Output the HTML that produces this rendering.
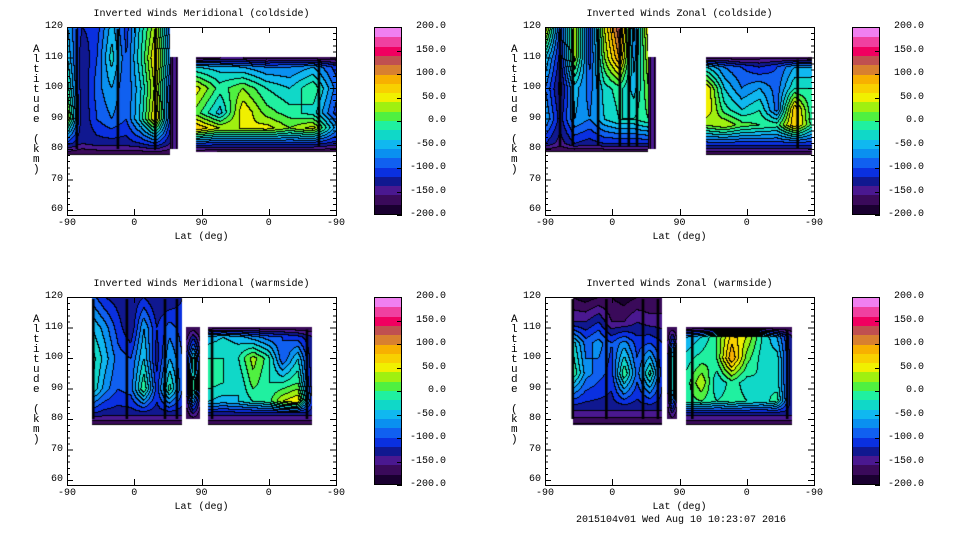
<!DOCTYPE html>
<html><head><meta charset="utf-8">
<style>
body{margin:0;background:#fff;width:960px;height:540px;overflow:hidden;position:relative;font-family:"Liberation Mono",monospace;font-size:10px;color:#000}
.p{position:absolute;left:0;top:0;width:480px;height:270px}
.t{position:absolute;white-space:pre;line-height:10px}
canvas{position:absolute}
</style></head><body>
<div id="root"></div>
<div class="t" style="left:576px;top:516px">2015104v01 Wed Aug 10 10:23:07 2016</div>
<script>
// ---- data (u: 0..360 across x-axis, -90 .. 90 .. -90) ----
const tlA_alts=[120,110,100,90,82,78];
const tlA_vals=[[-60,-120,-110,-50,-110,-30,40,-100],[-40,-140,-100,-30,-100,-20,70,-80],[-10,-140,-90,-60,-100,-40,50,-110],[40,-140,-100,-80,-100,-30,70,-110],[-110,-140,-130,-130,-130,-120,-100,-140],[-185,-185,-185,-185,-185,-185,-185,-185]];
const tlS_alts=[110,80];const tlS_vals=[[-170,-150,-170],[-170,-150,-170]];
const tlB_alts=[110,107,100,92,87,82,79];
const tlB_vals=[[-170,-160,-160,-170,-160,-170,-175],[-40,-50,-60,-80,-80,-60,-110],[50,-10,20,-20,-40,0,-90],[10,-50,60,10,-10,-30,-110],[80,40,40,50,20,50,-70],[-100,-110,-110,-110,-110,-110,-130],[-180,-185,-185,-185,-185,-185,-185]];
const tlStripes=[13,68,118,337];

const trA_alts=[120,110,100,90,82,79];
const trA_vals=[[60,-110,40,-110,40,140,-90,60],[-40,-130,30,-110,20,100,-70,40],[-80,-150,-50,-90,-30,-10,-50,20],[-60,-130,-60,-80,-40,-20,-20,0],[-120,-150,-120,-130,-120,-120,-120,-120],[-185,-185,-185,-185,-185,-185,-185,-185]];
const trS_alts=[110,80];const trS_vals=[[-170,-150,-170],[-170,-150,-170]];
const trB_alts=[110,107,100,93,88,82,78];
const trB_vals=[[-170,-165,-175,-165,-165,-165,-175],[-40,-80,-100,-120,-100,-60,-60],[60,-40,-80,-60,-90,-20,-20],[60,-10,-40,-20,-90,80,-20],[20,40,10,0,-10,80,-10],[-110,-110,-110,-110,-110,-110,-110],[-185,-185,-185,-185,-185,-185,-185]];
const trStripes=[20,37,71,100,112,123,338];

const blA_alts=[120,110,100,90,82,78];
const blA_vals=[[-90,-120,-130,-140,-120,-140,-140,-120],[-40,-70,-110,-140,-60,-120,-90,-110],[-10,-50,-90,-100,-40,-130,-60,-100],[-20,-70,-100,-90,0,-110,-10,-100],[-120,-130,-130,-130,-130,-130,-130,-130],[-185,-185,-185,-185,-185,-185,-185,-185]];
const blS_alts=[110,100,90,80];const blS_vals=[[-180,-170,-180],[-140,-30,-140],[-140,0,-140],[-180,-170,-180]];
const blB_alts=[110,107,100,92,86,82,78];
const blB_vals=[[-175,-170,-170,-170,-170,-170,-175,-175],[-50,-40,-50,-70,-90,-100,-110,-140],[-20,-20,-20,30,-10,-100,-40,-140],[-10,-20,-40,10,-20,-20,0,-140],[-40,-50,-40,-20,-10,40,60,-120],[-130,-130,-130,-130,-130,-130,-130,-130],[-185,-185,-185,-185,-185,-185,-185,-185]];
const blStripes=[35,80,131,147,194,321];

const brA_alts=[120,112,105,95,84,78];
const brA_vals=[[-180,-190,-180,-180,-190,-180,-180,-180],[-140,-140,-120,-160,-160,-140,-150,-150],[-30,-90,-70,-100,-70,-110,-100,-120],[0,-70,-90,-110,0,-90,-10,-120],[-130,-130,-130,-130,-130,-130,-130,-130],[-185,-185,-185,-185,-185,-185,-185,-185]];
const brS_alts=[110,100,90,80];const brS_vals=[[-180,-170,-180],[-150,-20,-150],[-150,-20,-150],[-180,-170,-180]];
const brB_alts=[110,107,100,92,86,82,78];
const brB_vals=[[-175,-170,-170,-170,-170,-170,-175,-175],[-60,-40,0,70,40,-20,-60,-140],[-30,-10,0,100,10,-30,-30,-140],[-10,40,-40,-10,-30,-20,-30,-140],[-10,0,-20,-10,-20,-30,-10,-140],[-130,-130,-130,-130,-130,-130,-130,-130],[-185,-185,-185,-185,-185,-185,-185,-185]];
const brStripes=[37,82,131,151,197,324];

const bandColors=["#1a0030","#3a0a5a","#4a1890","#101890","#0a30e0","#1060f0","#0a90f0","#10b8f0","#10d8c8","#20f0a0","#50f040","#a0f010","#f0f000","#f8d000","#f8b000","#d88030","#c05050","#f00060","#f040a0","#f080f0"];
const cbLabels=["200.0","150.0","100.0","50.0","0.0","-50.0","-100.0","-150.0","-200.0"];
const yTicks=[60,70,80,90,100,110,120];
const xTickLabels=["-90","0","90","0","-90"];

const panels=[
 {name:"meridional-coldside",ox:0,oy:0,title:"Inverted Winds Meridional (coldside)",
  regions:[{u0:0,u1:138,alts:tlA_alts,vals:tlA_vals},{u0:138,u1:148,alts:tlS_alts,vals:tlS_vals},{u0:173,u1:360,alts:tlB_alts,vals:tlB_vals}],stripes:tlStripes},
 {name:"zonal-coldside",ox:478,oy:0,title:"Inverted Winds Zonal (coldside)",
  regions:[{u0:0,u1:138,alts:trA_alts,vals:trA_vals},{u0:138,u1:148,alts:trS_alts,vals:trS_vals},{u0:216,u1:357,alts:trB_alts,vals:trB_vals}],stripes:trStripes},
 {name:"meridional-warmside",ox:0,oy:270,title:"Inverted Winds Meridional (warmside)",
  regions:[{u0:33,u1:154,alts:blA_alts,vals:blA_vals},{u0:159,u1:178,alts:blS_alts,vals:blS_vals},{u0:189,u1:328,alts:blB_alts,vals:blB_vals}],stripes:blStripes},
 {name:"zonal-warmside",ox:478,oy:270,title:"Inverted Winds Zonal (warmside)",
  regions:[{u0:37,u1:157,alts:brA_alts,vals:brA_vals},{u0:163,u1:177,alts:brS_alts,vals:brS_vals},{u0:189,u1:330,alts:brB_alts,vals:brB_vals}],stripes:brStripes}
];

// ---- geometry ----
const BX=67,BY=27,BW=269,BH=188,PXKM=3.05;
const xScale=u=>u/360*BW;
const yScale=a=>(120-a)*PXKM;
const hex=h=>[parseInt(h.slice(1,3),16),parseInt(h.slice(3,5),16),parseInt(h.slice(5,7),16)];
const rgb=bandColors.map(hex);
function band(v){let b=Math.floor((v+200)/20);return Math.max(0,Math.min(19,b));}
function sample(r,u,a){
  const n=r.vals[0].length;let fx=(u-r.u0)/(r.u1-r.u0)*(n-1);
  let i=Math.min(n-2,Math.max(0,Math.floor(fx)));let tx=Math.max(0,Math.min(1,fx-i));
  let k=0;while(k<r.alts.length-2&&a<r.alts[k+1])k++;
  let ty=(r.alts[k]-a)/(r.alts[k]-r.alts[k+1]);ty=Math.max(0,Math.min(1,ty));
  const g=(row,c)=>r.vals[row][Math.min(c,n-1)];
  const top=g(k,i)*(1-tx)+g(k,i+1)*tx,bot=g(k+1,i)*(1-tx)+g(k+1,i+1)*tx;
  return top*(1-ty)+bot*ty;
}
const root=document.getElementById('root');
function txt(parent,s,x,y,name,extra){
  const d=document.createElement('div');d.className='t';d.textContent=s;
  d.style.left=x+'px';d.style.top=y+'px';if(extra)d.style.cssText+=extra;
  
  
  parent.appendChild(d);return d;
}
panels.forEach(P=>{
  const p=document.createElement('div');p.className='p';
  p.style.left=P.ox+'px';p.style.top=P.oy+'px';
  
  
  root.appendChild(p);
  txt(p,P.title,BX+BW/2,10,'plot-title','transform:translateX(-50%)');
  const cv=document.createElement('canvas');cv.width=BW;cv.height=BH;
  cv.style.left=BX+'px';cv.style.top=BY+'px';
  
  
  p.appendChild(cv);
  const ctx=cv.getContext('2d');const img=ctx.createImageData(BW,BH);
  const bands=new Int16Array(BW*BH).fill(-1);
  for(let j=0;j<BH;j++){const a=120-(j+0.5)/PXKM;
    for(let i=0;i<BW;i++){const u=(i+0.5)/BW*360;
      for(const r of P.regions){
        if(u>=r.u0&&u<=r.u1&&a<=r.alts[0]&&a>=r.alts[r.alts.length-1]){bands[j*BW+i]=band(sample(r,u,a));break;}
      }}}
  for(let j=0;j<BH;j++)for(let i=0;i<BW;i++){
    const idx=j*BW+i,b=bands[idx],o=idx*4;
    if(b<0){img.data[o]=img.data[o+1]=img.data[o+2]=255;img.data[o+3]=255;continue;}
    let c=rgb[b];
    const l=i>0?bands[idx-1]:b,up=j>0?bands[idx-BW]:b;
    if((l>=0&&l!==b)||(up>=0&&up!==b))c=[0,0,0];
    img.data[o]=c[0];img.data[o+1]=c[1];img.data[o+2]=c[2];img.data[o+3]=255;
  }
  ctx.putImageData(img,0,0);
  ctx.fillStyle='#000';
  P.stripes.forEach(u=>{
    const r=P.regions.find(r=>u>=r.u0-3&&u<=r.u1+3)||P.regions[0];
    const y0=yScale(r.alts[0])+2,y1=yScale(r.alts[r.alts.length-1]+2);
    ctx.fillRect(xScale(u)-1.2,y0,2.6,y1-y0);
  });
  const ns='http://www.w3.org/2000/svg';
  const svg=document.createElementNS(ns,'svg');svg.setAttribute('width',480);svg.setAttribute('height',270);
  svg.style.position='absolute';svg.style.left='0';svg.style.top='0';
  
  
  p.appendChild(svg);
  let d=`M${BX+.5},${BY+.5}h${BW}v${BH}h${-BW}Z`;
  for(let a=60;a<=120;a+=2){const y=BY+yScale(a)+.5;const L=(a%10===0)?6:3;
    d+=`M${BX},${y}h${L}M${BX+BW},${y}h${-L}`;}
  for(let k=0;k<5;k++){const x=BX+Math.round(xScale(k*90))+.5;
    d+=`M${x},${BY+BH}v-6M${x},${BY}v6`;}
  const path=document.createElementNS(ns,'path');path.setAttribute('d',d);
  path.setAttribute('stroke','#000');path.setAttribute('fill','none');path.setAttribute('shape-rendering','crispEdges');
  
  
  svg.appendChild(path);
  yTicks.forEach(a=>txt(p,String(a),BX-4,BY+yScale(a)-5,'y-tick-label','transform:translateX(-100%)'));
  xTickLabels.forEach((s,k)=>txt(p,s,BX+xScale(k*90),BY+BH+4,'x-tick-label','transform:translateX(-50%)'));
  txt(p,'Lat (deg)',BX+BW/2,BY+BH+18,'x-axis-title','transform:translateX(-50%)');
  txt(p,'A\nl\nt\ni\nt\nu\nd\ne\n \n(\nk\nm\n)',33,45,'y-axis-title','line-height:10px;font-size:11px');
  const cb=document.createElement('div');cb.style.cssText='position:absolute;left:374px;top:27px;width:28px;height:188px;border:1px solid #000;box-sizing:border-box;display:flex;flex-direction:column-reverse';
  
  
  bandColors.forEach(c=>{const s=document.createElement('div');s.style.cssText='flex:1;background:'+c;
    
    
    cb.appendChild(s);});
  p.appendChild(cb);
  cbLabels.forEach((s,k)=>{const y=27+k*(188/8);
    txt(p,s,446,y-5,'colorbar-label','transform:translateX(-100%)');
    const t=document.createElement('div');t.style.cssText=`position:absolute;left:397px;top:${Math.round(y)}px;width:5px;height:1px;background:#000`;
    
    
    p.appendChild(t);});
});
</script>
</body></html>
